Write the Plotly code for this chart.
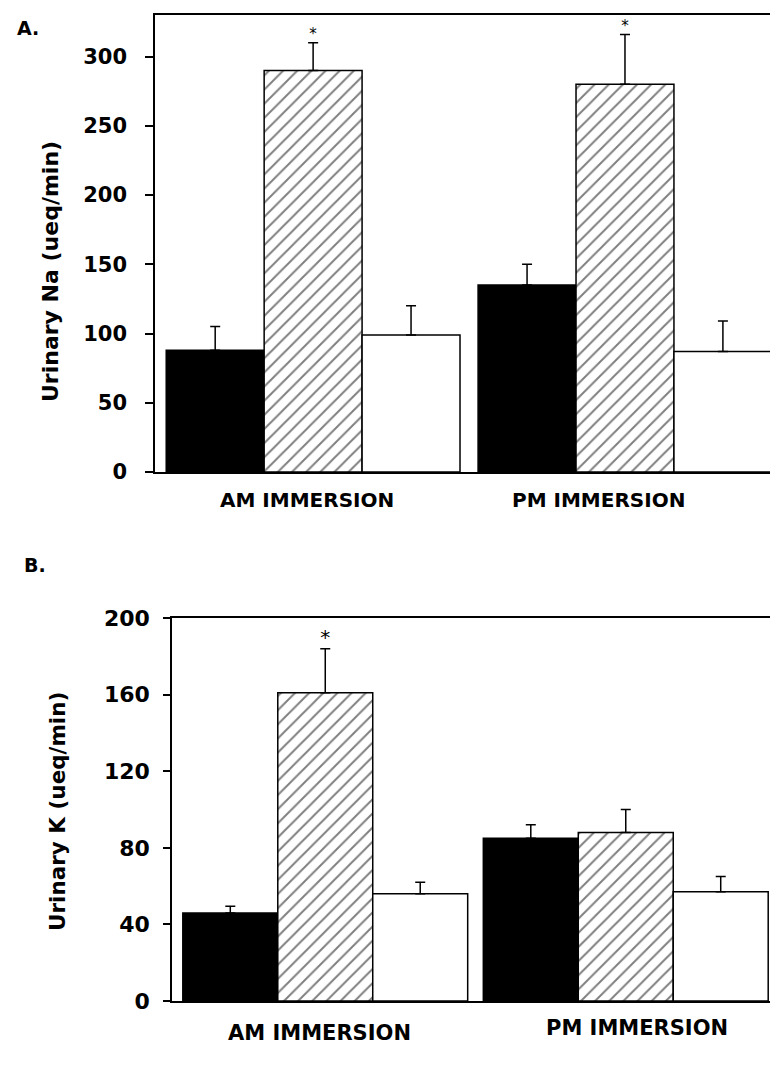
import plotly.graph_objects as go

# ---------------- data ----------------
groups = ["AM IMMERSION", "PM IMMERSION"]

na_black = [88, 135]
na_black_err = [17, 15]
na_hatch = [290, 280]
na_hatch_err = [20, 36]
na_white = [99, 87]
na_white_err = [21, 22]
na_star = [True, True]

k_black = [46, 85]
k_black_err = [3.5, 7]
k_hatch = [161, 88]
k_hatch_err = [23, 12]
k_white = [56, 57]
k_white_err = [6, 8]
k_star = [True, False]

na_ticks = [0, 50, 100, 150, 200, 250, 300]
k_ticks = [0, 40, 80, 120, 160, 200]

W, H = 770, 1075
FONT = "DejaVu Sans"

fig = go.Figure()


def add_panel(xa, ya, vals, errs, stars, bar_w, star_size):
    styles = [
        dict(color="black", line=dict(color="black", width=1.5)),
        dict(color="white", line=dict(color="black", width=1.5),
             pattern=dict(shape="/", fgcolor="black", bgcolor="white",
                          size=10, solidity=0.2, fillmode="overlay")),
        dict(color="white", line=dict(color="black", width=1.5)),
    ]
    for si, (v, e, st) in enumerate(zip(vals, errs, styles)):
        xs = [gi + (si - 1) * bar_w for gi in range(len(groups))]
        fig.add_trace(go.Bar(
            x=xs, y=v, width=bar_w, marker=st, xaxis=xa, yaxis=ya,
            showlegend=False,
            error_y=dict(type="data", symmetric=False, array=e,
                         arrayminus=[0] * len(e), color="black",
                         thickness=1.5, width=5),
        ))
        if si == 1:
            sx = [x for x, s in zip(xs, stars) if s]
            sy = [a + b for a, b, s in zip(v, e, stars) if s]
            fig.add_trace(go.Scatter(
                x=sx, y=sy, mode="text", text=["*"] * len(sx),
                textposition="top center",
                textfont=dict(family=FONT, size=star_size, color="black"),
                xaxis=xa, yaxis=ya, showlegend=False, cliponaxis=False,
            ))


add_panel("x", "y", [na_black, na_hatch, na_white],
          [na_black_err, na_hatch_err, na_white_err], na_star, 0.314, 15)
add_panel("x2", "y2", [k_black, k_hatch, k_white],
          [k_black_err, k_hatch_err, k_white_err], k_star, 0.316, 20)

axis_common = dict(showgrid=False, zeroline=False, showline=True,
                   linecolor="black", linewidth=1.5, automargin=False)

fig.update_layout(
    width=W, height=H,
    margin=dict(l=0, r=0, t=0, b=0, autoexpand=False),
    paper_bgcolor="white", plot_bgcolor="white",
    barmode="overlay",
    xaxis=dict(domain=[155 / W, 1], range=[-0.507, 1.465], mirror=True,
               showticklabels=False, ticks="", anchor="y", **axis_common),
    yaxis=dict(domain=[(H - 472) / H, (H - 15) / H], range=[0, 330],
               tickvals=na_ticks, ticks="outside", ticklen=8, tickwidth=1.5,
               tickcolor="black", ticklabelstandoff=14,
               tickfont=dict(family=FONT, size=21, color="black", weight="bold"),
               anchor="x", **axis_common),
    xaxis2=dict(domain=[172 / W, 1], range=[-0.51, 1.48], mirror=True,
                showticklabels=False, ticks="", anchor="y2", **axis_common),
    yaxis2=dict(domain=[(H - 1001) / H, (H - 618) / H], range=[0, 200],
                tickvals=k_ticks, ticks="outside", ticklen=7, tickwidth=1.5,
                tickcolor="black", ticklabelstandoff=9,
                tickfont=dict(family=FONT, size=22, color="black", weight="bold"),
                anchor="x2", **axis_common),
)

ann = []
# panel letters
ann.append(dict(text="A.", x=15 / W, y=(H - 28) / H, xanchor="left", yanchor="middle"))
ann.append(dict(text="B.", x=22 / W, y=(H - 565) / H, xanchor="left", yanchor="middle"))
for a in ann:
    a.update(xref="paper", yref="paper", showarrow=False,
             font=dict(family=FONT, size=19, color="black", weight="bold"))

# y-axis titles
ann.append(dict(text="Urinary Na (ueq/min)", x=50 / W, y=(H - 272) / H,
                textangle=-90, xref="paper", yref="paper", showarrow=False,
                xanchor="center", yanchor="middle",
                font=dict(family=FONT, size=22, color="black", weight="bold")))
ann.append(dict(text="Urinary K (ueq/min)", x=57 / W, y=(H - 812) / H,
                textangle=-90, xref="paper", yref="paper", showarrow=False,
                xanchor="center", yanchor="middle",
                font=dict(family=FONT, size=21.5, color="black", weight="bold")))

# group labels
label_pos_a = [(307, 500), (598, 500)]
label_pos_b = [(319, 1033), (637, 1028)]
for g, (px, py) in zip(groups, label_pos_a):
    ann.append(dict(text=g, x=px / W, y=(H - py) / H, xref="paper", yref="paper",
                    showarrow=False, xanchor="center", yanchor="middle",
                    font=dict(family=FONT, size=20, color="black", weight="bold")))
for g, (px, py) in zip(groups, label_pos_b):
    ann.append(dict(text=g, x=px / W, y=(H - py) / H, xref="paper", yref="paper",
                    showarrow=False, xanchor="center", yanchor="middle",
                    font=dict(family=FONT, size=21, color="black", weight="bold")))

fig.update_layout(annotations=ann)

fig.write_html(
    "out.html",
    post_script="document.body.style.margin='0';document.body.style.overflow='hidden';",
)
